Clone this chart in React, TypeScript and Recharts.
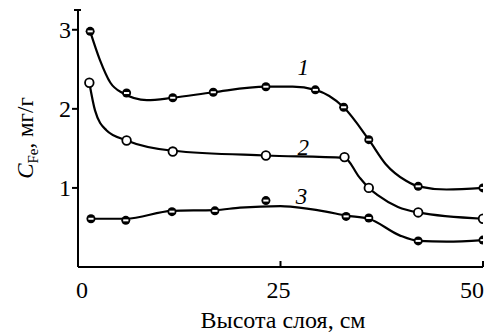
import { ComposedChart, Line, Scatter, XAxis, YAxis, ReferenceDot } from 'recharts';

const FONT = '"Liberation Serif", "Times New Roman", serif';

// measured points (layer height, cm -> C_Fe, mg/g)
const x1 = [1.5, 6, 11.7, 16.7, 23.2, 29.3, 32.8, 35.9, 42, 50];
const y1 = [2.98, 2.2, 2.14, 2.21, 2.28, 2.24, 2.02, 1.61, 1.02, 1.0];
const x2 = [1.4, 6, 11.7, 23.2, 32.9, 35.9, 42, 50];
const y2 = [2.33, 1.6, 1.46, 1.41, 1.39, 1.0, 0.69, 0.61];
const x3 = [1.6, 5.9, 11.6, 16.9, 23.2, 33.1, 35.9, 42, 50];
const y3 = [0.61, 0.59, 0.7, 0.71, 0.84, 0.64, 0.62, 0.33, 0.34];

// fitted curves
const fitX1 = [1.5, 2.7, 4, 5.5, 8.5, 11.7, 16.7, 23.2, 26.5, 29.3, 32.8, 35.9, 38, 40.5, 42, 45.5, 50];
const fitY1 = [2.98, 2.62, 2.33, 2.2, 2.11, 2.14, 2.21, 2.28, 2.28, 2.24, 2.02, 1.61, 1.3, 1.09, 1.02, 0.98, 1.0];
const fitX2 = [1.4, 2.1, 3.5, 6, 11.7, 23.2, 32.9, 34.7, 35.9, 37, 39.5, 42, 50];
const fitY2 = [2.33, 1.98, 1.73, 1.6, 1.47, 1.41, 1.38, 1.14, 1.0, 0.91, 0.76, 0.69, 0.61];
const fitX3 = [1.6, 5.9, 11.6, 16.9, 20, 25, 26.5, 30.6, 33.1, 35.9, 39.7, 42, 45.5, 50];
const fitY3 = [0.61, 0.61, 0.71, 0.72, 0.75, 0.77, 0.76, 0.7, 0.65, 0.61, 0.4, 0.33, 0.32, 0.34];

const xTicks = [0, 25, 50];
const yTicks = [1, 2, 3, 3.25];

const curveLabels = ['1', '2', '3'];
const labelX = [27.8, 27.8, 27.6];
const labelY = [2.53, 1.52, 0.9];

const pairs = (xs: number[], ys: number[]) => xs.map((x, i) => ({ x, y: ys[i] }));

const pts1 = pairs(x1, y1);
const pts2 = pairs(x2, y2);
const pts3 = pairs(x3, y3);
const fit1 = pairs(fitX1, fitY1);
const fit2 = pairs(fitX2, fitY2);
const fit3 = pairs(fitX3, fitY3);

const SplitDot = ({ cx, cy }: any) => (
  <g>
    <circle cx={cx} cy={cy} r={4.5} fill="#000" />
    <rect x={cx - 2.6} y={cy - 1} width={5.2} height={2} fill="#fff" />
  </g>
);

const OpenDot = ({ cx, cy }: any) => (
  <circle cx={cx} cy={cy} r={4.3} fill="#fff" stroke="#000" strokeWidth={1.8} />
);

const XTick = ({ x, y, payload }: any) => {
  const v = payload.value;
  const anchor = v === 50 ? 'end' : 'middle';
  const dx = v === 0 ? 4 : v === 50 ? 1 : -2;
  return (
    <g>
      {v !== 0 && <line x1={x} y1={y} x2={x} y2={y - 6} stroke="#000" strokeWidth={2} />}
      <text x={x + dx} y={y + 31} textAnchor={anchor} fontFamily={FONT} fontSize={24} fill="#000">
        {v}
      </text>
    </g>
  );
};

const YTick = ({ x, y, payload }: any) => {
  const v = payload.value;
  if (v > 3) {
    return <line x1={x - 4} y1={y} x2={x + 3} y2={y} stroke="#000" strokeWidth={2} />;
  }
  return (
    <g>
      <line x1={x - 6} y1={y} x2={x} y2={y} stroke="#000" strokeWidth={2} />
      <text x={x - 7} y={y + 8} textAnchor="end" fontFamily={FONT} fontSize={24} fill="#000">
        {v}
      </text>
    </g>
  );
};

const YTitle = () => (
  <text transform="translate(33,138) rotate(-90)" textAnchor="middle" fontFamily={FONT} fontSize={23} fill="#000">
    <tspan fontStyle="italic" fill="#000">C</tspan>
    <tspan fontSize={15} dy={5} fill="#000">Fe</tspan>
    <tspan dy={-5} fill="#000">, мг/г</tspan>
  </text>
);

const XTitle = () => (
  <text x={283} y={328} textAnchor="middle" fontFamily={FONT} fontSize={24} fill="#000">
    Высота слоя, см
  </text>
);

export default function App() {
  return (
    <div style={{ position: 'absolute', left: 0, top: 0, background: '#fff' }}>
      <ComposedChart width={488} height={334} margin={{ top: 10, right: 5, bottom: 0, left: 18 }}>
        <XAxis
          type="number"
          dataKey="x"
          domain={[0, 50]}
          ticks={xTicks}
          interval={0}
          allowDataOverflow
          height={67}
          tickSize={0}
          tickMargin={0}
          tickLine={false}
          tick={<XTick />}
          axisLine={{ stroke: '#000', strokeWidth: 2 }}
          label={{ content: () => <XTitle /> }}
        />
        <YAxis
          type="number"
          dataKey="y"
          domain={[0, 3.25]}
          ticks={yTicks}
          interval={0}
          allowDataOverflow
          width={60}
          tickSize={0}
          tickMargin={0}
          tickLine={false}
          tick={<YTick />}
          axisLine={{ stroke: '#000', strokeWidth: 2 }}
          label={{ content: () => <YTitle /> }}
        />
        <Line data={fit1} dataKey="y" type="monotone" stroke="#000" strokeWidth={2.2} dot={false} isAnimationActive={false} />
        <Line data={fit2} dataKey="y" type="monotone" stroke="#000" strokeWidth={2.2} dot={false} isAnimationActive={false} />
        <Line data={fit3} dataKey="y" type="monotone" stroke="#000" strokeWidth={2.2} dot={false} isAnimationActive={false} />
        <Scatter data={pts1} dataKey="y" shape={<SplitDot />} isAnimationActive={false} />
        <Scatter data={pts2} dataKey="y" shape={<OpenDot />} isAnimationActive={false} />
        <Scatter data={pts3} dataKey="y" shape={<SplitDot />} isAnimationActive={false} />
        {curveLabels.map((t, i) => (
          <ReferenceDot
            key={t}
            x={labelX[i]}
            y={labelY[i]}
            r={0}
            stroke="none"
            fill="none"
            label={{ value: t, position: 'center', fontFamily: FONT, fontStyle: 'italic', fontSize: 23, fill: '#000' }}
          />
        ))}
      </ComposedChart>
    </div>
  );
}
